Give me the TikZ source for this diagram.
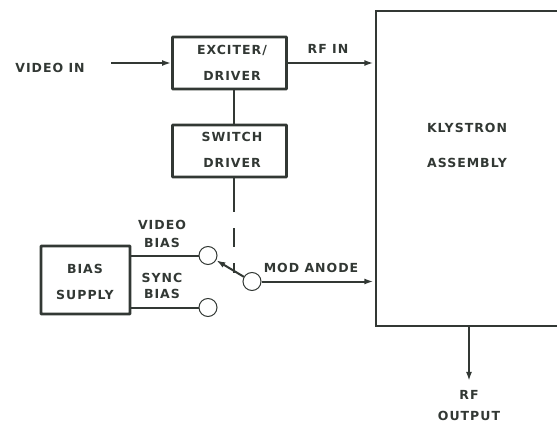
\documentclass[tikz,border=0pt]{standalone}
\usepackage{fontspec}
\setmainfont{DejaVu Sans}
\usepackage{tikz}
\usetikzlibrary{arrows.meta,positioning}
\definecolor{inkc}{RGB}{50,56,52}
\tikzset{
  blockbox/.style={draw=inkc,line width=2.6pt,rounded corners=0.5pt},
  txtlabel/.style={align=center,inner sep=0pt,text=inkc,
    font=\bfseries\fontsize{12.5}{13}\selectfont\addfontfeature{LetterSpace=8}},
  contact/.style={circle,draw=inkc,line width=1pt,fill=white,minimum size=18pt,inner sep=0pt},
  sigArrow/.style={-{Latex[length=3.2mm,width=2.1mm]},draw=inkc,line width=2pt},
  sigLine/.style={draw=inkc,line width=2pt}
}

\begin{document}
\begin{tikzpicture}[x=1pt,y=-1pt]
  \useasboundingbox (0,0) rectangle (557,423);
  \node[blockbox,minimum width=114pt,minimum height=52pt] (exciter) at (229.5,63) {};
  \node[blockbox,minimum width=114pt,minimum height=52pt] (switch) at (229.5,151) {};
  \node[blockbox,minimum width=89pt,minimum height=68pt] (bias) at (85.5,280) {};
  \node[draw=inkc,line width=2pt,minimum width=200pt,minimum height=315pt,anchor=north west,
        inner sep=0pt] (klystron) at (374.5,10) {};

  \node[txtlabel] (excText) at (232,50) {EXCITER/};
  \node[txtlabel] (drvTextA) at (232,76) {DRIVER};
  \node[txtlabel] (swText) at (232,137) {SWITCH};
  \node[txtlabel] (drvTextB) at (232,163) {DRIVER};
  \node[txtlabel] (biasText) at (85,269) {BIAS};
  \node[txtlabel] (supText) at (85,295) {SUPPLY};
  \node[txtlabel] (klyText) at (467,128) {KLYSTRON};
  \node[txtlabel] (asmText) at (467,163) {ASSEMBLY};
  \node[txtlabel] (videoin) at (50,68) {VIDEO IN};
  \node[txtlabel] (rfin) at (328,49) {RF IN};
  \node[txtlabel] (videoText) at (162,225) {VIDEO};
  \node[txtlabel] (vbiasText) at (162,243) {BIAS};
  \node[txtlabel] (syncText) at (162,278) {SYNC};
  \node[txtlabel] (sbiasText) at (162,294) {BIAS};
  \node[txtlabel] (modanode) at (311,268) {MOD ANODE};
  \node[txtlabel] (rfText) at (469,395) {RF};
  \node[txtlabel] (outText) at (469,416) {OUTPUT};

  \node[contact] (upper) at (208,255.5) {};
  \node[contact] (lower) at (208,307.5) {};
  \node[contact] (common) at (252,281.5) {};

  \coordinate (videoStart) at (111,63);
  \coordinate (rfinEnd) at (373.5,63);
  \coordinate (modEnd) at (373.5,281.5);
  \coordinate (outStart) at (469,325);
  \coordinate (outEnd) at (469,381);
  \coordinate (exBottom) at (234,90);
  \coordinate (swTop) at (234,125);
  \coordinate (swBottom) at (234,177);
  \coordinate (solidEnd) at (234,212);
  \coordinate (dashStart) at (234,228);
  \coordinate (dashEnd) at (234,273);

  \draw[sigArrow] (videoStart) -- (exciter.west);
  \draw[sigArrow] (exciter.east) -- (rfinEnd);
  \draw[sigLine] (exBottom) -- (swTop);
  \draw[sigLine] (swBottom) -- (solidEnd);
  \draw[sigLine,dash pattern=on 19pt off 16pt] (dashStart) -- (dashEnd);
  \draw[sigLine] (bias.east |- upper) -- (upper);
  \draw[sigLine] (bias.east |- lower) -- (lower);
  \draw[sigArrow] (common.150) -- (upper.-30);
  \draw[sigArrow] (common) -- (modEnd);
  \draw[sigArrow] (outStart) -- (outEnd);
\end{tikzpicture}
\end{document}
